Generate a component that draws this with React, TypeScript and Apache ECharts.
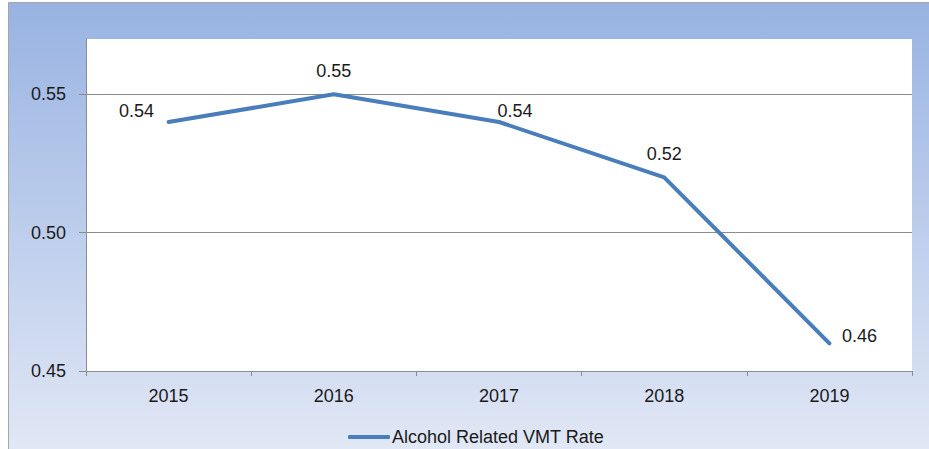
import React, { useEffect, useRef } from "react";
import * as echarts from "echarts";

const categories = ["2015", "2016", "2017", "2018", "2019"];
const rateValues = [0.54, 0.55, 0.54, 0.52, 0.46];
const yTickValues = [0.45, 0.5, 0.55];
const seriesName = "Alcohol Related VMT Rate";
const labelOffsets: [number, number][] = [
  [-32, 3],
  [0, -9],
  [16, 3],
  [0, -9],
  [30, 7],
];

const FONT = "Liberation Sans";

export default function App() {
  const ref = useRef<HTMLDivElement>(null);
  useEffect(() => {
    if (!ref.current) return;
    const chart = echarts.init(ref.current, null, { renderer: "svg" });
    chart.setOption({
      animation: false,
      textStyle: { fontFamily: FONT },
      graphic: [
        {
          type: "rect",
          z: -10,
          silent: true,
          shape: { x: 8.5, y: 2.5, width: 940, height: 460 },
          style: {
            fill: new echarts.graphic.LinearGradient(0, 0, 0, 1, [
              { offset: 0, color: "#98b3e2" },
              { offset: 1, color: "#e3e9f6" },
            ]),
            stroke: "#a6a6a6",
            lineWidth: 1,
          },
        },
      ],
      grid: {
        left: 86,
        right: 17,
        top: 39,
        bottom: 78,
        show: true,
        backgroundColor: "#ffffff",
        borderWidth: 0,
      },
      legend: {
        left: 343,
        top: 423,
        itemWidth: 42,
        itemHeight: 4,
        itemGap: 10,
        textStyle: { fontFamily: FONT, fontSize: 18, color: "#1a1a1a", padding: [0, 0, 0, -3] },
        data: [{ name: seriesName, icon: "roundRect", itemStyle: { color: "#4a7ebb" } }],
      },
      xAxis: {
        type: "category",
        data: categories,
        boundaryGap: true,
        axisLine: { lineStyle: { color: "#8c8c8c", width: 1 } },
        axisTick: { show: true, length: 5, lineStyle: { color: "#8c8c8c" } },
        axisLabel: { fontFamily: FONT, fontSize: 18, color: "#1a1a1a", margin: 16 },
        splitLine: { show: false },
      },
      yAxis: {
        type: "value",
        min: 0.45,
        max: 0.57,
        axisLine: { show: true, lineStyle: { color: "#8c8c8c", width: 1 } },
        axisTick: {
          show: true,
          length: 7,
          customValues: yTickValues,
          lineStyle: { color: "#8c8c8c" },
        },
        axisLabel: {
          fontFamily: FONT,
          fontSize: 18,
          color: "#1a1a1a",
          margin: 20,
          customValues: yTickValues,
          formatter: (v: number) => v.toFixed(2),
        },
        splitLine: { show: false },
      },
      series: [
        {
          name: seriesName,
          type: "line",
          data: rateValues.map((v, i) => ({
            value: v,
            label: { offset: labelOffsets[i] },
          })),
          symbol: "circle",
          symbolSize: 1,
          showSymbol: true,
          lineStyle: { color: "#4a7ebb", width: 4, cap: "round", join: "round" },
          itemStyle: { color: "#4a7ebb" },
          label: {
            show: true,
            position: "top",
            fontFamily: FONT,
            fontSize: 18,
            color: "#1a1a1a",
            formatter: (p: any) => Number(p.value).toFixed(2),
          },
          markLine: {
            silent: true,
            symbol: "none",
            label: { show: false },
            lineStyle: { color: "#8c8c8c", width: 1, type: "solid" },
            data: yTickValues.filter((v) => v > 0.45).map((v) => ({ yAxis: v })),
            z: 1,
          },
          z: 3,
        },
      ],
    });
    return () => chart.dispose();
  }, []);
  return (
    <div
      ref={ref}
      style={{ position: "absolute", left: 0, top: 0, width: 929, height: 449 }}
    />
  );
}
